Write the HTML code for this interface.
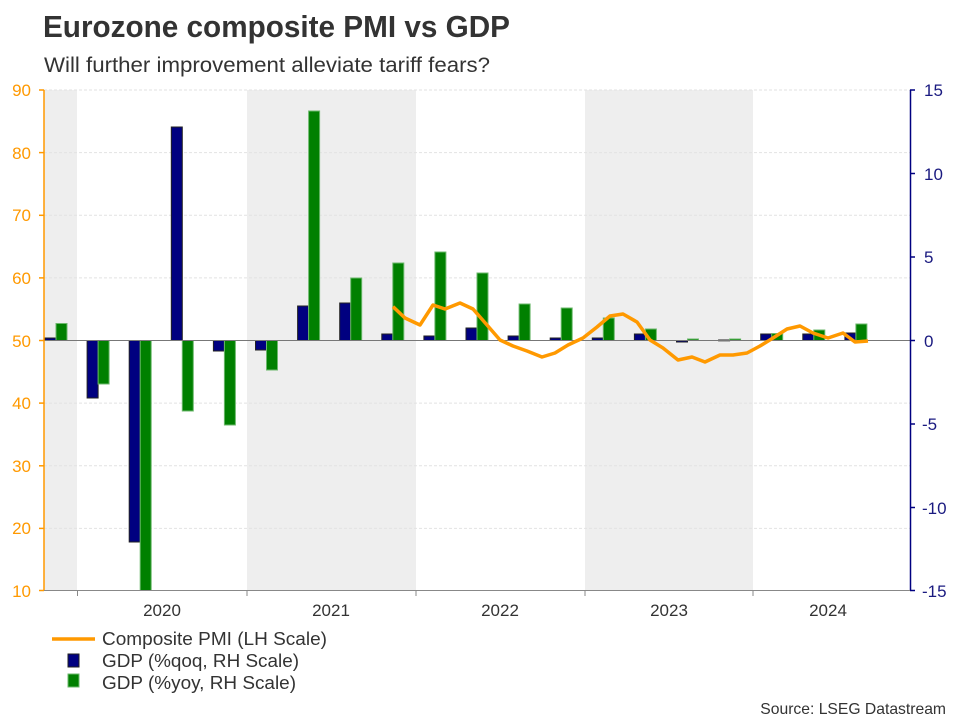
<!DOCTYPE html>
<html><head><meta charset="utf-8"><style>
body{margin:0;background:#fff;}
svg{display:block;font-family:"Liberation Sans",Arial,sans-serif;}
</style></head><body>
<svg width="960" height="720" viewBox="0 0 960 720">
<rect width="960" height="720" fill="#fff"/>
<text x="43" y="37" font-size="31" font-weight="bold" fill="#333" textLength="467" lengthAdjust="spacingAndGlyphs">Eurozone composite PMI vs GDP</text>
<text x="44" y="72" font-size="21" fill="#333" textLength="446" lengthAdjust="spacingAndGlyphs">Will further improvement alleviate tariff fears?</text>
<rect x="44" y="90" width="33" height="500" fill="#eeeeee"/>
<rect x="247" y="90" width="169" height="500" fill="#eeeeee"/>
<rect x="585" y="90" width="168" height="500" fill="#eeeeee"/>
<g stroke="#e2e2e2" stroke-width="1" stroke-dasharray="3,2">
<line x1="44" x2="910" y1="90" y2="90"/>
<line x1="44" x2="910" y1="152.6" y2="152.6"/>
<line x1="44" x2="910" y1="215.3" y2="215.3"/>
<line x1="44" x2="910" y1="277.9" y2="277.9"/>
<line x1="44" x2="910" y1="403.1" y2="403.1"/>
<line x1="44" x2="910" y1="465.8" y2="465.8"/>
<line x1="44" x2="910" y1="528.4" y2="528.4"/>
</g>
<g stroke-width="1">
<g fill="#000080" stroke="#222">
<rect x="45" y="338" width="11" height="2.5"/>
<rect x="87.1" y="340.5" width="11" height="57.5"/>
<rect x="129.2" y="340.5" width="11" height="201.5"/>
<rect x="171.3" y="127" width="11" height="213.5"/>
<rect x="213.4" y="340.5" width="11" height="10.5"/>
<rect x="255.5" y="340.5" width="11" height="9.5"/>
<rect x="297.6" y="306" width="11" height="34.5"/>
<rect x="339.7" y="303" width="11" height="37.5"/>
<rect x="381.8" y="334" width="11" height="6.5"/>
<rect x="423.9" y="336" width="11" height="4.5"/>
<rect x="466" y="328" width="11" height="12.5"/>
<rect x="508.1" y="336" width="11" height="4.5"/>
<rect x="550.2" y="338" width="11" height="2.5"/>
<rect x="592.3" y="338" width="11" height="2.5"/>
<rect x="634.4" y="334" width="11" height="6.5"/>
<rect x="676.5" y="340.5" width="11" height="1.5"/>
<rect x="718.6" y="340" width="11" height="0.8"/>
<rect x="760.7" y="334" width="11" height="6.5"/>
<rect x="802.8" y="334" width="11" height="6.5"/>
<rect x="844.9" y="333" width="11" height="7.5"/>
</g>
<g fill="#008000" stroke="#6cb86c">
<rect x="56" y="323.5" width="11" height="17"/>
<rect x="98.1" y="340.5" width="11" height="43.5"/>
<rect x="140.2" y="340.5" width="11" height="250"/>
<rect x="182.3" y="340.5" width="11" height="70.5"/>
<rect x="224.4" y="340.5" width="11" height="84.5"/>
<rect x="266.5" y="340.5" width="11" height="29.5"/>
<rect x="308.6" y="111" width="11" height="229.5"/>
<rect x="350.7" y="278" width="11" height="62.5"/>
<rect x="392.8" y="263" width="11" height="77.5"/>
<rect x="434.9" y="252" width="11" height="88.5"/>
<rect x="477" y="273" width="11" height="67.5"/>
<rect x="519.1" y="304" width="11" height="36.5"/>
<rect x="561.2" y="308" width="11" height="32.5"/>
<rect x="603.3" y="318" width="11" height="22.5"/>
<rect x="645.4" y="329" width="11" height="11.5"/>
<rect x="687.5" y="339" width="11" height="1.5"/>
<rect x="729.6" y="339" width="11" height="1.5"/>
<rect x="771.7" y="333.5" width="11" height="7"/>
<rect x="813.8" y="330" width="11" height="10.5"/>
<rect x="855.9" y="324" width="11" height="16.5"/>
</g>
</g>
<line x1="44" x2="910" y1="340.5" y2="340.5" stroke="#777" stroke-width="1"/>
<polyline fill="none" stroke="#ff9900" stroke-width="3.5" stroke-linejoin="round" points="393,306.7 405,318 420,325 433,305 445,309 460,303 473,309 487,325 500,340 513,346 527,351 542,357 555,353 568,345 583,338 597,327 610,316 623,314 637,322 650,340 663,348 678,360 692,357 705,362 720,355 733,355 747,353 760,346 773,338 787,329 800,326 813,333 828,338 843,333 855,342 868,341"/>
<line x1="44" x2="44" y1="90" y2="591" stroke="#ff9900" stroke-width="1.5"/>
<line x1="910.5" x2="910.5" y1="90" y2="591" stroke="#000080" stroke-width="1.5"/>
<line x1="44" x2="910" y1="590.5" y2="590.5" stroke="#888" stroke-width="1"/>
<g stroke="#ff9900" stroke-width="1.5">
<line x1="39" x2="44" y1="90" y2="90"/><line x1="39" x2="44" y1="152.6" y2="152.6"/><line x1="39" x2="44" y1="215.3" y2="215.3"/><line x1="39" x2="44" y1="277.9" y2="277.9"/><line x1="39" x2="44" y1="340.5" y2="340.5"/><line x1="39" x2="44" y1="403.1" y2="403.1"/><line x1="39" x2="44" y1="465.8" y2="465.8"/><line x1="39" x2="44" y1="528.4" y2="528.4"/><line x1="39" x2="44" y1="590.5" y2="590.5"/>
</g>
<g stroke="#000080" stroke-width="1.5">
<line x1="910" x2="915" y1="90" y2="90"/><line x1="910" x2="915" y1="173.5" y2="173.5"/><line x1="910" x2="915" y1="257" y2="257"/><line x1="910" x2="915" y1="340.5" y2="340.5"/><line x1="910" x2="915" y1="424" y2="424"/><line x1="910" x2="915" y1="507.5" y2="507.5"/><line x1="910" x2="915" y1="590.5" y2="590.5"/>
</g>
<g stroke="#888" stroke-width="1">
<line x1="77.5" x2="77.5" y1="590" y2="596"/><line x1="247" x2="247" y1="590" y2="596"/><line x1="416" x2="416" y1="590" y2="596"/><line x1="585" x2="585" y1="590" y2="596"/><line x1="753" x2="753" y1="590" y2="596"/>
</g>
<g font-size="17" fill="#ff9900" text-anchor="end">
<text x="31" y="96">90</text><text x="31" y="159">80</text><text x="31" y="221">70</text><text x="31" y="284">60</text><text x="31" y="347">50</text><text x="31" y="409">40</text><text x="31" y="472">30</text><text x="31" y="534">20</text><text x="31" y="597">10</text>
</g>
<g font-size="17" fill="#1a1a80">
<text x="924" y="96">15</text><text x="924" y="180">10</text><text x="924" y="263">5</text><text x="924" y="347">0</text><text x="922" y="430">-5</text><text x="922" y="514">-10</text><text x="922" y="597">-15</text>
</g>
<g font-size="17" fill="#333" text-anchor="middle">
<text x="162" y="616">2020</text><text x="331" y="616">2021</text><text x="500" y="616">2022</text><text x="669" y="616">2023</text><text x="828" y="616">2024</text>
</g>
<line x1="52" x2="95" y1="639" y2="639" stroke="#ff9900" stroke-width="3.5"/>
<rect x="68" y="654" width="11" height="13" fill="#000080" stroke="#222"/>
<rect x="68" y="674" width="11" height="13" fill="#008000" stroke="#6cb86c"/>
<g font-size="18.5" fill="#333">
<text x="102" y="645" textLength="225" lengthAdjust="spacingAndGlyphs">Composite PMI (LH Scale)</text>
<text x="102" y="667" textLength="197" lengthAdjust="spacingAndGlyphs">GDP (%qoq, RH Scale)</text>
<text x="102" y="689" textLength="194" lengthAdjust="spacingAndGlyphs">GDP (%yoy, RH Scale)</text>
</g>
<text x="946" y="714" font-size="15.7" fill="#333" text-anchor="end">Source: LSEG Datastream</text>
</svg>
</body></html>
